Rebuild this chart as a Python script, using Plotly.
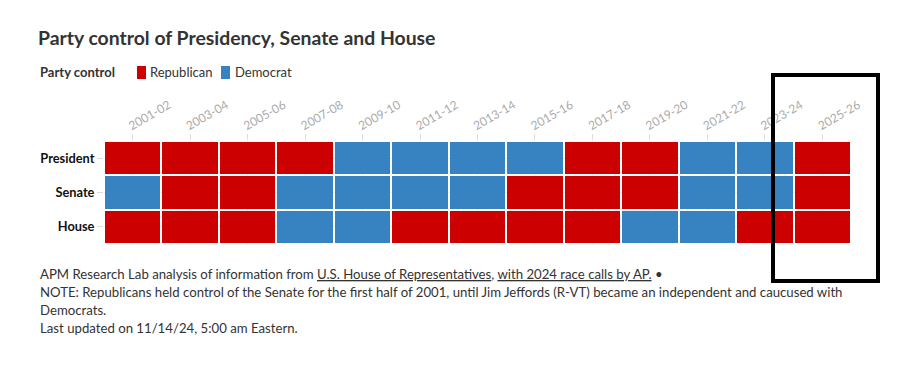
import plotly.graph_objects as go

periods = ["2001-02", "2003-04", "2005-06", "2007-08", "2009-10", "2011-12", "2013-14",
           "2015-16", "2017-18", "2019-20", "2021-22", "2023-24", "2025-26"]
branches = ["President", "Senate", "House"]
president = ["R", "R", "R", "R", "D", "D", "D", "D", "R", "R", "D", "D", "R"]
senate = ["D", "R", "R", "D", "D", "D", "D", "R", "R", "R", "D", "D", "R"]
house = ["R", "R", "R", "D", "D", "R", "R", "R", "R", "D", "D", "R", "R"]

RED = "#CC0000"
BLUE = "#3783C2"
FONT = "Source Sans Pro, Lato, sans-serif"

rows = [president, senate, house]
z = [[1 if v == "R" else 0 for v in r] for r in rows]
hover = [["Republican" if v == "R" else "Democrat" for v in r] for r in rows]

fig = go.Figure(go.Heatmap(
    x=periods, y=branches, z=z, text=hover,
    colorscale=[[0, BLUE], [0.5, BLUE], [0.5, RED], [1, RED]],
    zmin=0, zmax=1, showscale=False, xgap=2, ygap=2,
    hovertemplate="%{y} %{x}: %{text}<extra></extra>",
))

fig.update_layout(
    width=898, height=379,
    margin=dict(l=104, r=47, t=141, b=135),
    paper_bgcolor="white", plot_bgcolor="white",
    font=dict(family=FONT, color="#333"),
    title=dict(text="<b>Party control of Presidency, Senate and House</b>",
               x=38 / 898, xanchor="left", y=1 - 38 / 379, yanchor="middle",
               font=dict(size=19.4, color="#333", family=FONT)),
)
fig.update_xaxes(type="category", side="top", tickangle=-30, showgrid=True, gridcolor="#eee",
                 ticks="outside", ticklen=6, tickcolor="#ddd",
                 tickfont=dict(size=12, color="#aaa", family=FONT),
                 ticklabelshift=-4, ticklabelstandoff=-2,
                 showline=False, zeroline=False, fixedrange=True)
fig.update_yaxes(type="category", autorange="reversed", showgrid=True, gridcolor="#eee",
                 ticks="outside", ticklen=6, tickcolor="#ddd",
                 tickfont=dict(size=12.8, color="#111", family=FONT),
                 tickprefix="<b>", ticksuffix="</b>",
                 showline=False, zeroline=False, fixedrange=True)

def px_x(px):
    return (px - 104) / 747

def px_y(py):
    return (244 - py) / 103

# legend
ann = []
ann.append(dict(text="<b>Party control</b>", x=px_x(38), y=px_y(72), xref="paper", yref="paper",
                xanchor="left", yanchor="middle", showarrow=False,
                font=dict(size=13, color="#333", family=FONT)))
ann.append(dict(text="Republican", x=px_x(148), y=px_y(72), xref="paper", yref="paper",
                xanchor="left", yanchor="middle", showarrow=False,
                font=dict(size=13, color="#333", family=FONT)))
ann.append(dict(text="Democrat", x=px_x(233), y=px_y(72), xref="paper", yref="paper",
                xanchor="left", yanchor="middle", showarrow=False,
                font=dict(size=13, color="#333", family=FONT)))

notes = [
    "APM Research Lab analysis of information from <u>U.S. House of Representatives</u>, <u>with 2024 race calls by AP.</u> •",
    "NOTE: Republicans held control of the Senate for the first half of 2001, until Jim Jeffords (R-VT) became an independent and caucused with",
    "Democrats.",
    "Last updated on 11/14/24, 5:00 am Eastern.",
]
for i, t in enumerate(notes):
    ann.append(dict(text=t, x=px_x(38), y=px_y(274 + 18 * i), xref="paper", yref="paper",
                    xanchor="left", yanchor="middle", showarrow=False,
                    font=dict(size=13.2, color="#333", family=FONT)))
fig.update_layout(annotations=ann)

shapes = []
for x0, col in [(137, RED), (221, BLUE)]:
    shapes.append(dict(type="rect", xref="paper", yref="paper",
                       x0=px_x(x0), x1=px_x(x0 + 9), y0=px_y(66), y1=px_y(79),
                       fillcolor=col, line=dict(width=0), layer="above"))
# highlight box
shapes.append(dict(type="rect", xref="paper", yref="paper",
                   x0=px_x(773), x1=px_x(878), y0=px_y(75), y1=px_y(281),
                   line=dict(color="black", width=4), fillcolor="rgba(0,0,0,0)", layer="above"))
fig.update_layout(shapes=shapes)

fig.write_html("out.html")
